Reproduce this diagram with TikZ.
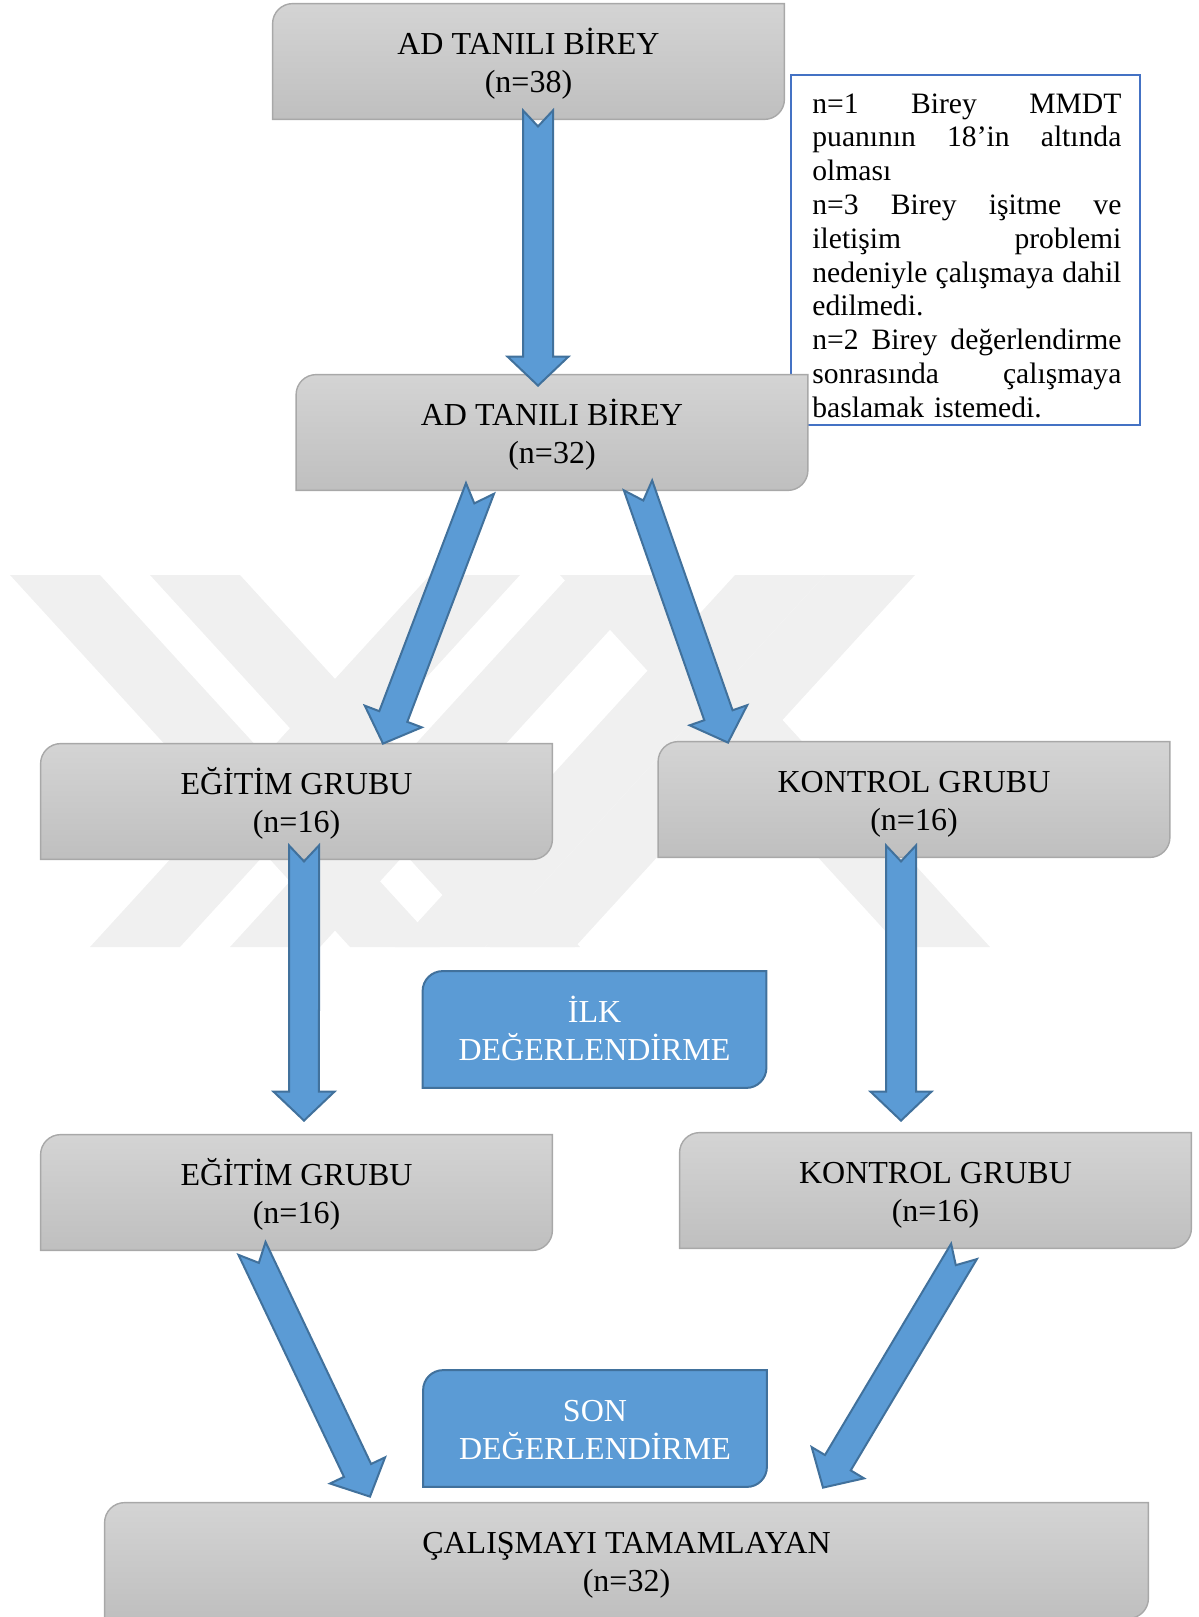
\documentclass[tikz,border=0pt]{standalone}
\usepackage{fontspec}
\setmainfont{Liberation Serif}
\usetikzlibrary{
  calc,
  backgrounds
}
\definecolor{flowblue}{RGB}{91,155,213}
\definecolor{flowedge}{RGB}{65,113,156}
\definecolor{boxtop}{RGB}{212,212,212}
\definecolor{boxbottom}{RGB}{191,191,191}
\definecolor{boxedge}{RGB}{168,168,168}
\definecolor{noteedge}{RGB}{68,114,196}
\definecolor{markgray}{RGB}{240,240,240}
\newcommand{\ls}{\rule[-3.75pt]{0pt}{19pt}}
\newlength{\notew}
\setlength{\notew}{154.5pt}
\newcommand{\jline}[1]{\makebox[\notew][s]{#1}}

\begin{document}
\begin{tikzpicture}[
      x=0.5pt, y=-0.5pt,
      boxtext/.style={
         inner sep=0pt,
         align=center,
         font=\fontsize{16}{19}\selectfont
      },
      graybox/.style={
         boxtext,
         minimum width=255.5pt,
         minimum height=57.5pt
      },
      widebox/.style={
         graybox,
         minimum width=521.5pt
      },
      bluebox/.style={
         boxtext,
         text=white,
         minimum width=171.5pt,
         minimum height=58pt
      },
      notebox/.style={
         draw=noteedge,
         line width=0.9pt,
         fill=white,
         minimum width=174.5pt,
         minimum height=175pt
      },
      notetext/.style={
         inner sep=0pt,
         text width=\notew,
         align=left,
         font=\fontsize{14.8}{16.9}\selectfont
      },
      graybody/.style={draw=boxedge, line width=0.7pt, top color=boxtop, bottom color=boxbottom},
      bluebody/.style={draw=flowedge, line width=1pt, fill=flowblue},
      flow/.style={
         fill=flowblue, draw=flowedge, line width=1pt,
         to path={
           ($(\tikztostart)!7.5pt!90:(\tikztotarget)$)
           -- ($(\tikztostart)!8pt!(\tikztotarget)$)
           -- ($(\tikztostart)!7.5pt!-90:(\tikztotarget)$)
           -- ($(\tikztotarget)!16.32pt!27.35:(\tikztostart)$)
           -- ($(\tikztotarget)!21.04pt!46.45:(\tikztostart)$)
           -- (\tikztotarget)
           -- ($(\tikztotarget)!21.04pt!-46.45:(\tikztostart)$)
           -- ($(\tikztotarget)!16.32pt!-27.35:(\tikztostart)$)
           -- cycle}
      }
    ]
    \useasboundingbox (0,0) rectangle (1199,1617);

    \node[graybox] (ad38) at (528.5,61.5) {\ls AD TANILI BİREY\\\ls(n=38)};
    \node[graybox] (ad32) at (552,432.5) {\ls AD TANILI BİREY\\\ls(n=32)};
    \node[graybox] (egt1) at (296.5,801.5) {\ls EĞİTİM GRUBU\\\ls(n=16)};
    \node[graybox] (kon1) at (914,799.5) {\ls KONTROL GRUBU\\\ls(n=16)};
    \node[bluebox] (ilk) at (594.5,1029.5) {\ls İLK\\\ls DEĞERLENDİRME};
    \node[graybox] (egt2) at (296.5,1192.5) {\ls EĞİTİM GRUBU\\\ls(n=16)};
    \node[graybox] (kon2) at (935.5,1190.5) {\ls KONTROL GRUBU\\\ls(n=16)};
    \node[bluebox] (son) at (595,1428.5) {\ls SON\\\ls DEĞERLENDİRME};
    \node[widebox] (done) at (626.5,1560.5) {\ls ÇALIŞMAYI TAMAMLAYAN\\\ls(n=32)};

    \node[notetext, anchor=base west] (drop) at (812,113) {%
      \jline{n=1\hfill Birey\hfill MMDT}\\
      \jline{puanının\hfill 18’in\hfill altında}\\
      olması\\
      \jline{n=3\hfill Birey\hfill işitme\hfill ve}\\
      \jline{iletişim\hfill problemi}\\
      \jline{nedeniyle\hfill çalışmaya\hfill dahil}\\
      edilmedi.\\
      \jline{n=2\hfill Birey\hfill değerlendirme}\\
      \jline{sonrasında\hfill çalışmaya}\\
      baslamak istemedi.};

    \begin{scope}[on background layer]
      % faint watermark
      \foreach \x in {10,150,560}
        \fill[markgray] (\x,575) -- ++(90,0) -- ++(340,372) -- ++(-90,0) -- cycle;
      \foreach \x in {430,570,735,825}
        \fill[markgray] (\x,575) -- ++(90,0) -- ++(-340,372) -- ++(-90,0) -- cycle;
      \node[notebox] (note) at (965.5,250) {};
      \foreach \n in {ad38,ad32,egt1,kon1,egt2,kon2,done}
        \draw[graybody] (\n.south west) -- ([yshift=-10pt]\n.north west)
          arc[start angle=180, end angle=90, radius=10pt] -- (\n.north east)
          -- ([yshift=10pt]\n.south east)
          arc[start angle=0, end angle=-90, radius=10pt] -- cycle;
      \foreach \n in {ilk,son}
        \draw[bluebody] (\n.south west) -- ([yshift=-10pt]\n.north west)
          arc[start angle=180, end angle=90, radius=10pt] -- (\n.north east)
          -- ([yshift=10pt]\n.south east)
          arc[start angle=0, end angle=-90, radius=10pt] -- cycle;
    \end{scope}

    \coordinate (ad38-out) at ($(ad38.south)+(9.5,-9)$);
    \coordinate (ad32-in) at ($(ad32.north)+(-14,11)$);
    \coordinate (ad32-outl) at ($(ad32.south)+(-72,-2)$);
    \coordinate (ad32-outr) at ($(ad32.south)+(86,-5)$);
    \coordinate (egt1-in) at ($(egt1.north)+(86.5,0)$);
    \coordinate (kon1-in) at ($(kon1.north)+(-186,1)$);
    \coordinate (egt1-out) at ($(egt1.south)+(7.5,-14)$);
    \coordinate (egt2-in) at ($(egt2.north)+(7.5,-14)$);
    \coordinate (kon1-out) at ($(kon1.south)+(-13,-12)$);
    \coordinate (kon2-in) at ($(kon2.north)+(-34.5,-12)$);
    \coordinate (egt2-out) at ($(egt2.south)+(-44.5,-2)$);
    \coordinate (done-inl) at ($(done.north)+(-256.5,-6)$);
    \coordinate (kon2-out) at ($(kon2.south)+(28.5,3)$);
    \coordinate (done-inr) at ($(done.north)+(196.5,-15)$);

    \foreach \s/\t in {ad38-out/ad32-in, ad32-outl/egt1-in, ad32-outr/kon1-in,
                       egt1-out/egt2-in, kon1-out/kon2-in,
                       egt2-out/done-inl, kon2-out/done-inr}
      \draw[flow] (\s) to (\t);
\end{tikzpicture}
\end{document}
